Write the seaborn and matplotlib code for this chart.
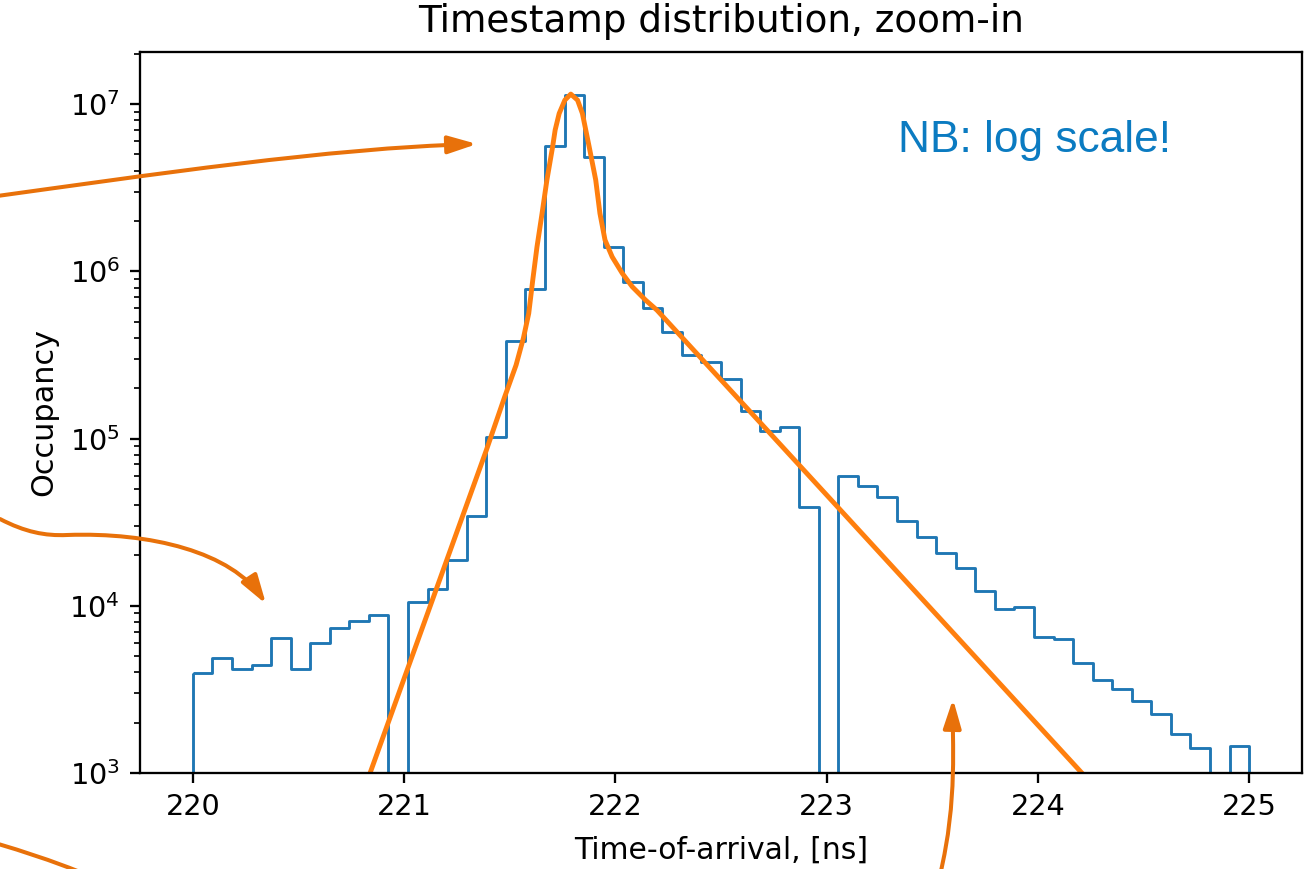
import numpy as np
import matplotlib
matplotlib.use("Agg")
import matplotlib.pyplot as plt
from matplotlib.patches import FancyArrowPatch
from matplotlib.path import Path
import seaborn as sns

# ---------------- data ----------------
hist_start = 220.0
hist_end = 225.0
n_bins = 54
counts = [3950, 4850, 4190, 4400, 6440, 4190, 6010, 7330, 8140, 8810,
          0, 10500, 12650, 18780, 34600, 102600, 383000, 783000, 5630000, 11300000,
          4800000, 1400000, 859000, 605000, 432000, 317000, 288000, 227000, 147000, 111000,
          117000, 38800, 0, 59700, 52200, 44900, 32300, 25900, 20600, 16800,
          12300, 9520, 9870, 6480, 6300, 4530, 3600, 3170, 2700, 2240,
          1700, 1420, 0, 1450]

fit_x = [220.839, 221.389, 221.475, 221.530, 221.565, 221.590, 221.609, 221.629, 221.653,
         221.676, 221.703, 221.715, 221.734, 221.761, 221.789, 221.821, 221.844,
         221.876, 221.907, 221.927, 221.951, 221.985, 222.033, 222.080, 222.143,
         222.197, 224.208]
fit_y = [1.0e3, 8.5e4, 1.76e5, 2.75e5, 4.0e5, 5.61e5, 8.87e5, 1.40e6, 2.22e6,
         3.52e6, 5.56e6, 7.0e6, 8.79e6, 1.057e7, 1.148e7, 1.057e7, 8.79e6,
         5.56e6, 3.52e6, 2.22e6, 1.54e6, 1.22e6, 9.72e5, 8.09e5, 6.73e5,
         5.86e5, 1.0e3]

title = "Timestamp distribution, zoom-in"
xlabel = "Time-of-arrival, [ns]"
ylabel = "Occupancy"
note = "NB: log scale!"

# ---------------- figure ----------------
W, H, DPI = 1309, 869, 207
fig = plt.figure(figsize=(W / DPI, H / DPI), dpi=DPI)
ax = fig.add_axes([140 / W, 96 / H, 1162 / W, 721 / H])

bin_w = (hist_end - hist_start) / n_bins
centers = hist_start + bin_w * (np.arange(n_bins) + 0.5)

sns.histplot(x=centers, weights=counts, bins=n_bins, binrange=(hist_start, hist_end),
             element="step", fill=True,
             color="#1f77b4", facecolor="none", edgecolor="#1f77b4",
             linewidth=1.0, ax=ax)
sns.lineplot(x=fit_x, y=fit_y, color="#ff7f0e", linewidth=1.7, ax=ax)

ax.set_yscale("log")
ax.set_xlim(219.75, 225.25)
ax.set_ylim(1e3, 2.05e7)
ax.set_title(title, fontsize=13, pad=7)
ax.set_xlabel(xlabel, fontsize=10.4, labelpad=5)
ax.set_ylabel(ylabel, fontsize=10.5)

fig.text(898 / W, (H - 151.7) / H, note, color="#0b7bc1",
         fontsize=15.4, family="Liberation Sans", ha="left", va="baseline")

# ---------------- decorative arrows (figure pixels, y from top) ----------------
arrow_color = "#e8710a"


def px(pts):
    return [(x / W, (H - y) / H) for x, y in pts]


def add_path(pts, codes, head=True):
    style = "-|>,head_length=0.42,head_width=0.13" if head else "-"
    p = FancyArrowPatch(path=Path(px(pts), codes), arrowstyle=style,
                        mutation_scale=20, color=arrow_color, linewidth=1.4,
                        transform=fig.transFigure, clip_on=False)
    fig.add_artist(p)


C4 = Path.CURVE4
add_path([(-10, 197), (150, 175), (330, 148), (477, 144)], [Path.MOVETO, C4, C4, C4])
add_path([(0, 519), (25, 532), (45, 536), (67, 535),
          (150, 532), (232, 552), (266, 604)],
         [Path.MOVETO, C4, C4, C4, C4, C4, C4])
add_path([(-5, 843), (25, 852), (50, 860), (80, 872)], [Path.MOVETO, C4, C4, C4], head=False)
add_path([(940, 875), (958, 800), (952, 740), (953, 699)], [Path.MOVETO, C4, C4, C4])

fig.savefig("out.png", dpi=DPI)
